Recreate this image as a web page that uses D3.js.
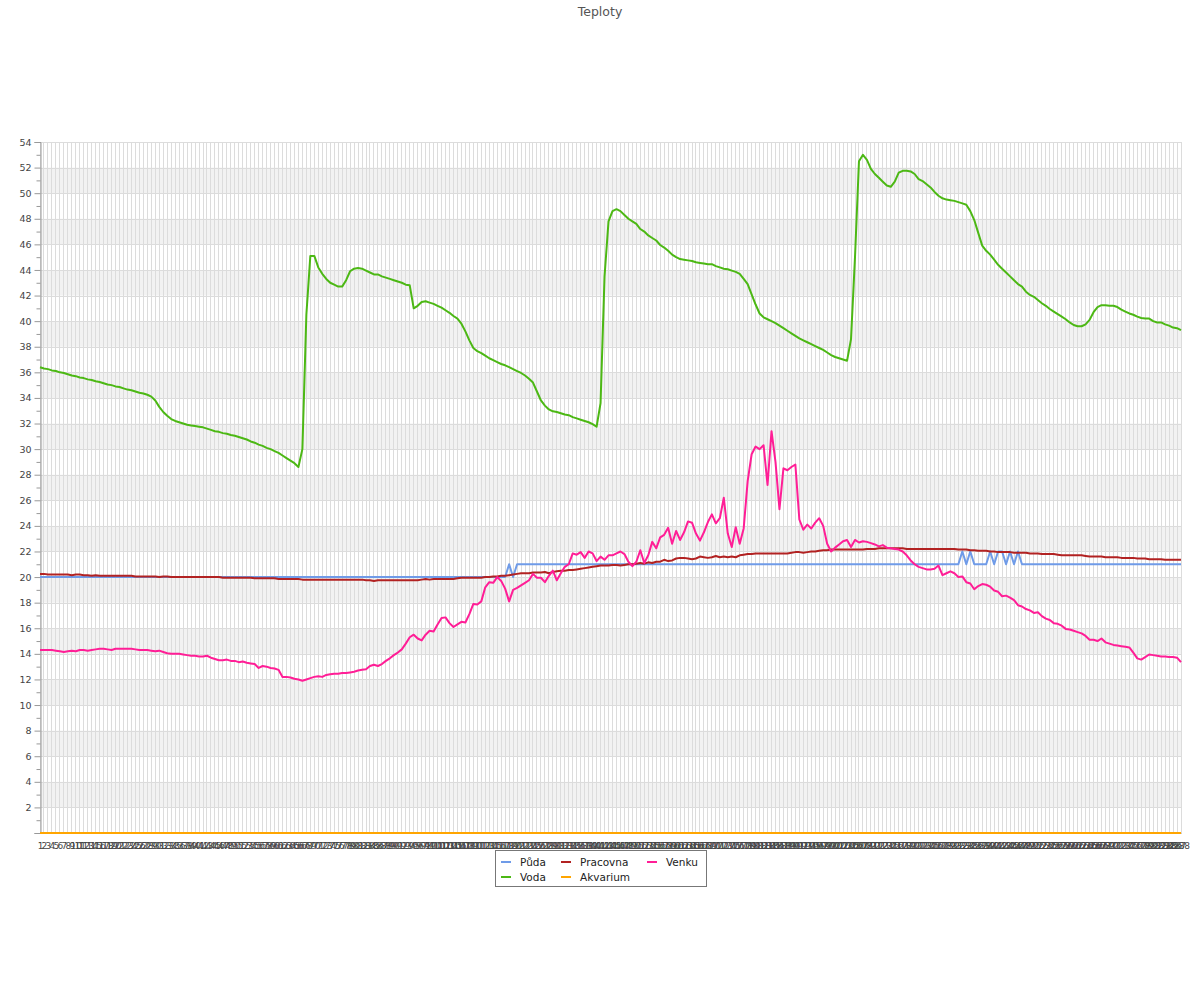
<!DOCTYPE html>
<html><head><meta charset="utf-8">
<script src="https://cdn.jsdelivr.net/npm/d3@7"></script>
<style>body{margin:0;background:#fff;} svg{display:block;font-family:"DejaVu Sans",sans-serif;}</style>
</head><body><svg id="c" width="1200" height="1000"></svg>
<script>
const title = "Teploty";
const categories = d3.range(1, 289).map(String);
const yMajorTicks = d3.range(0, 55, 2);
const yMinorTicks = d3.range(1, 54, 2);
const seriesNames = ["Půda", "Voda", "Pracovna", "Akvarium", "Venku"];
const seriesColors = ["#6f9be8", "#4cb814", "#b22222", "#ffa500", "#ff1e96"];

const puda = [
20,20,20,20,20,20,20,20,20,20,20,20, 20,20,20,20,20,20,20,20,20,20,20,20,
20,20,20,20,20,20,20,20,20,20,20,20, 20,20,20,20,20,20,20,20,20,20,20,20,
20,20,20,20,20,20,20,20,20,20,20,20, 20,20,20,20,20,20,20,20,20,20,20,20,
20,20,20,20,20,20,20,20,20,20,20,20, 20,20,20,20,20,20,20,20,20,20,20,20,
20,20,20,20,20,20,20,20,20,20,20,20, 20,20,20,20,20,20,20,20,20,20,21,20,
21,21,21,21,21,21,21,21,21,21,21,21, 21,21,21,21,21,21,21,21,21,21,21,21,
21,21,21,21,21,21,21,21,21,21,21,21, 21,21,21,21,21,21,21,21,21,21,21,21,
21,21,21,21,21,21,21,21,21,21,21,21, 21,21,21,21,21,21,21,21,21,21,21,21,
21,21,21,21,21,21,21,21,21,21,21,21, 21,21,21,21,21,21,21,21,21,21,21,21,
21,21,21,21,21,21,21,21,21,21,21,21, 21,21,21,21,22,21,22,21,21,21,21,22,
21,22,22,21,22,21,22,21,21,21,21,21, 21,21,21,21,21,21,21,21,21,21,21,21,
21,21,21,21,21,21,21,21,21,21,21,21, 21,21,21,21,21,21,21,21,21,21,21,21
];

const voda = [
36.4,36.3,36.25,36.15,36.1,36.0,35.95,35.85,35.75,35.7,35.6,35.55,
35.45,35.4,35.3,35.25,35.15,35.05,35.0,34.9,34.85,34.75,34.65,34.6,
34.5,34.4,34.35,34.25,34.1,33.8,33.3,32.9,32.6,32.35,32.2,32.1,
32.0,31.9,31.85,31.8,31.75,31.7,31.6,31.5,31.4,31.35,31.25,31.2,
31.1,31.05,30.95,30.85,30.75,30.6,30.5,30.35,30.25,30.1,30.0,29.85,
29.7,29.5,29.3,29.1,28.9,28.6,30.0,40.5,45.1,45.1,44.2,43.7,
43.3,43.0,42.85,42.7,42.7,43.2,43.9,44.1,44.15,44.1,43.95,43.8,
43.65,43.65,43.5,43.4,43.3,43.2,43.1,43.0,42.85,42.8,41.0,41.2,
41.5,41.55,41.45,41.35,41.2,41.05,40.85,40.65,40.4,40.2,39.8,39.2,
38.5,37.9,37.65,37.5,37.3,37.1,36.95,36.8,36.65,36.55,36.4,36.25,
36.1,35.95,35.75,35.5,35.2,34.5,33.8,33.4,33.1,32.95,32.9,32.8,
32.7,32.65,32.5,32.4,32.3,32.2,32.1,31.95,31.75,33.6,43.5,47.8,
48.6,48.75,48.6,48.3,48.0,47.8,47.6,47.2,47.0,46.7,46.5,46.3,
45.95,45.75,45.5,45.2,45.0,44.85,44.8,44.75,44.7,44.6,44.55,44.5,
44.45,44.45,44.3,44.2,44.1,44.05,43.95,43.85,43.7,43.3,42.9,42.1,
41.3,40.6,40.3,40.15,40.0,39.85,39.65,39.45,39.25,39.05,38.85,38.65,
38.5,38.35,38.2,38.05,37.9,37.75,37.55,37.35,37.2,37.1,37.0,36.9,
38.6,45.0,52.5,53.0,52.6,51.9,51.5,51.2,50.9,50.6,50.5,50.9,
51.6,51.75,51.75,51.7,51.5,51.1,50.95,50.7,50.45,50.1,49.8,49.6,
49.5,49.45,49.4,49.3,49.2,49.1,48.6,47.9,46.9,45.9,45.5,45.2,
44.8,44.4,44.1,43.8,43.5,43.2,42.9,42.7,42.3,42.05,41.9,41.65,
41.4,41.2,40.95,40.75,40.55,40.35,40.15,39.9,39.7,39.6,39.6,39.75,
40.1,40.7,41.1,41.25,41.25,41.2,41.2,41.1,40.9,40.75,40.6,40.5,
40.35,40.25,40.2,40.2,40.0,39.9,39.9,39.75,39.65,39.5,39.45,39.3
];

const pracovna = [
20.25,20.25,20.2,20.2,20.2,20.2,20.2,20.2,20.15,20.2,20.2,20.15,
20.15,20.1,20.15,20.1,20.1,20.1,20.1,20.1,20.1,20.1,20.1,20.1,
20.05,20.05,20.05,20.05,20.05,20.05,20.0,20.05,20.05,20.0,20.0,20.0,
20.0,20.0,20.0,20.0,20.0,20.0,20.0,20.0,20.0,20.0,19.95,19.95,
19.95,19.95,19.95,19.95,19.95,19.95,19.9,19.9,19.9,19.9,19.9,19.9,
19.85,19.85,19.85,19.85,19.85,19.85,19.8,19.8,19.8,19.8,19.8,19.8,
19.8,19.8,19.8,19.8,19.8,19.8,19.8,19.8,19.8,19.8,19.75,19.75,
19.7,19.75,19.75,19.75,19.75,19.75,19.75,19.75,19.75,19.75,19.75,19.75,
19.8,19.85,19.8,19.85,19.85,19.85,19.85,19.85,19.85,19.9,19.95,19.95,
19.95,19.95,19.95,19.95,20.0,20.0,20.05,20.05,20.1,20.1,20.15,20.2,
20.25,20.3,20.3,20.3,20.35,20.35,20.35,20.4,20.3,20.4,20.45,20.5,
20.5,20.55,20.55,20.6,20.65,20.7,20.75,20.8,20.85,20.9,20.9,20.9,
20.95,20.95,20.9,20.95,21.0,21.0,21.05,21.1,21.05,21.15,21.1,21.2,
21.2,21.35,21.25,21.3,21.45,21.5,21.5,21.45,21.4,21.45,21.6,21.55,
21.5,21.55,21.65,21.55,21.6,21.55,21.6,21.55,21.7,21.75,21.8,21.8,
21.85,21.85,21.85,21.85,21.85,21.85,21.85,21.85,21.85,21.9,21.95,21.95,
21.9,21.95,22.0,22.0,22.05,22.1,22.1,22.15,22.15,22.15,22.15,22.15,
22.15,22.15,22.15,22.15,22.2,22.2,22.2,22.25,22.25,22.25,22.25,22.25,
22.25,22.25,22.2,22.2,22.2,22.2,22.2,22.2,22.2,22.2,22.2,22.2,
22.2,22.2,22.2,22.15,22.15,22.15,22.1,22.1,22.05,22.05,22.05,22.0,
22.0,21.95,21.95,21.95,21.95,21.9,21.9,21.9,21.9,21.85,21.85,21.85,
21.8,21.8,21.8,21.8,21.75,21.7,21.7,21.7,21.7,21.7,21.7,21.65,
21.6,21.6,21.6,21.6,21.55,21.55,21.55,21.55,21.5,21.5,21.5,21.5,
21.45,21.45,21.45,21.4,21.4,21.4,21.4,21.35,21.35,21.35,21.35,21.35
];

const akvarium = [
0,0,0,0,0,0,0,0,0,0,0,0,0,0,0,0,0,0,0,0,0,0,0,0,
0,0,0,0,0,0,0,0,0,0,0,0,0,0,0,0,0,0,0,0,0,0,0,0,
0,0,0,0,0,0,0,0,0,0,0,0,0,0,0,0,0,0,0,0,0,0,0,0,
0,0,0,0,0,0,0,0,0,0,0,0,0,0,0,0,0,0,0,0,0,0,0,0,
0,0,0,0,0,0,0,0,0,0,0,0,0,0,0,0,0,0,0,0,0,0,0,0,
0,0,0,0,0,0,0,0,0,0,0,0,0,0,0,0,0,0,0,0,0,0,0,0,
0,0,0,0,0,0,0,0,0,0,0,0,0,0,0,0,0,0,0,0,0,0,0,0,
0,0,0,0,0,0,0,0,0,0,0,0,0,0,0,0,0,0,0,0,0,0,0,0,
0,0,0,0,0,0,0,0,0,0,0,0,0,0,0,0,0,0,0,0,0,0,0,0,
0,0,0,0,0,0,0,0,0,0,0,0,0,0,0,0,0,0,0,0,0,0,0,0,
0,0,0,0,0,0,0,0,0,0,0,0,0,0,0,0,0,0,0,0,0,0,0,0,
0,0,0,0,0,0,0,0,0,0,0,0,0,0,0,0,0,0,0,0,0,0,0,0
];

const venku = [
14.3,14.3,14.3,14.3,14.25,14.2,14.15,14.2,14.25,14.2,14.3,14.3,
14.25,14.3,14.35,14.4,14.4,14.35,14.3,14.4,14.4,14.4,14.4,14.4,
14.35,14.3,14.3,14.3,14.25,14.2,14.25,14.15,14.05,14.0,14.0,14.0,
13.95,13.9,13.85,13.85,13.8,13.8,13.85,13.7,13.6,13.5,13.5,13.55,
13.45,13.45,13.35,13.4,13.3,13.25,13.2,12.9,13.05,13.0,12.9,12.85,
12.75,12.2,12.2,12.15,12.05,12.0,11.9,12.0,12.1,12.2,12.25,12.2,
12.35,12.4,12.45,12.45,12.5,12.5,12.55,12.6,12.7,12.75,12.8,13.05,
13.15,13.05,13.2,13.45,13.65,13.9,14.1,14.35,14.8,15.3,15.5,15.2,
15.05,15.5,15.8,15.75,16.3,16.8,16.85,16.4,16.1,16.3,16.5,16.45,
17.1,17.9,17.85,18.1,19.2,19.6,19.55,20.0,19.7,19.1,18.1,19.0,
19.15,19.35,19.55,19.75,20.25,19.95,19.95,19.6,20.1,20.5,19.75,20.3,
20.8,21.0,21.85,21.75,21.95,21.5,22.0,21.85,21.25,21.6,21.35,21.7,
21.7,21.85,22.0,21.8,21.2,20.85,21.2,22.1,21.1,21.7,22.75,22.25,
23.1,23.3,23.85,22.6,23.6,22.9,23.5,24.35,24.25,23.4,22.85,23.5,
24.3,24.9,24.2,24.6,26.2,23.4,22.35,23.9,22.6,23.8,27.5,29.6,
30.2,30.0,30.3,27.2,31.4,29.0,25.3,28.5,28.35,28.6,28.8,24.5,
23.7,24.1,23.8,24.25,24.6,24.0,22.6,22.0,22.3,22.55,22.8,22.9,
22.35,22.9,22.7,22.8,22.75,22.65,22.55,22.4,22.5,22.3,22.25,22.2,
22.15,22.0,21.7,21.3,21.0,20.8,20.7,20.6,20.6,20.65,20.9,20.15,
20.3,20.45,20.3,20.0,20.05,19.6,19.5,19.05,19.3,19.45,19.4,19.25,
18.95,18.85,18.5,18.55,18.4,18.2,17.8,17.7,17.5,17.4,17.2,17.25,
16.95,16.75,16.65,16.4,16.35,16.2,15.95,15.9,15.8,15.7,15.6,15.4,
15.1,15.1,15.0,15.2,14.9,14.8,14.7,14.65,14.6,14.55,14.5,14.1,
13.65,13.55,13.75,13.95,13.9,13.85,13.8,13.8,13.75,13.75,13.7,13.35
];

const seriesValues = [puda, voda, pracovna, akvarium, venku];

const svg = d3.select("#c");
const L = 40, R = 1181, T = 142, B = 833;
const x = d3.scalePoint().domain(categories).range([L, R]);
const y = d3.scaleLinear().domain([0, 54]).range([B, T]);

// title
svg.append("text").attr("x", 600).attr("y", 16).attr("text-anchor", "middle")
  .attr("font-size", "12.5px").attr("fill", "#555").text(title);

const grid = svg.append("g");
// alternating bands
const bandStarts = yMajorTicks.filter(v => v < 54 && (v / 2) % 2 === 1);
grid.selectAll("rect.band").data(bandStarts).join("rect")
  .attr("x", L).attr("width", R - L)
  .attr("y", d => y(d + 2)).attr("height", d => y(d) - y(d + 2))
  .attr("fill", "#f2f2f2");
// vertical grid lines
grid.selectAll("line.v").data(categories).join("line")
  .attr("x1", d => Math.floor(x(d)) + 0.5).attr("x2", d => Math.floor(x(d)) + 0.5)
  .attr("y1", T).attr("y2", B).attr("stroke", "#dcdcdc").attr("stroke-width", 1);
// horizontal grid lines
grid.selectAll("line.h").data(yMajorTicks.filter(v => v > 0)).join("line")
  .attr("x1", L).attr("x2", R)
  .attr("y1", d => Math.round(y(d)) + 0.5).attr("y2", d => Math.round(y(d)) + 0.5)
  .attr("stroke", "#dcdcdc").attr("stroke-width", 1);

// y axis major
const yAxis = svg.append("g").attr("transform", `translate(${L + 0.5},0)`)
  .call(d3.axisLeft(y).tickValues(yMajorTicks).tickSize(6).tickPadding(3)
    .tickFormat(d => d === 0 ? "" : d));
yAxis.select(".domain").attr("stroke", "#999");
yAxis.selectAll(".tick line").attr("stroke", "#999");
yAxis.selectAll(".tick text").attr("font-size", "9.5px").attr("fill", "#444")
  .attr("font-family", "DejaVu Sans");
// y axis minor
const yMinor = svg.append("g").attr("transform", `translate(${L + 0.5},0)`)
  .call(d3.axisLeft(y).tickValues(yMinorTicks).tickSize(4).tickFormat(""));
yMinor.select(".domain").remove();
yMinor.selectAll(".tick line").attr("stroke", "#999");

// x axis labels
const xAxis = svg.append("g").attr("transform", `translate(0,${B})`)
  .call(d3.axisBottom(x).tickSize(0).tickPadding(10));
xAxis.select(".domain").attr("stroke", "#999");
xAxis.selectAll(".tick text").attr("font-size", "9px").attr("fill", "#444")
  .attr("font-family", "DejaVu Sans");

// lines
const line = d3.line().x((d, i) => x(categories[i])).y(d => y(d));
svg.append("g").selectAll("path").data(seriesValues).join("path")
  .attr("d", d => line(d)).attr("fill", "none")
  .attr("stroke", (d, i) => seriesColors[i]).attr("stroke-width", 2)
  .attr("stroke-linejoin", "round");

// legend
const lg = svg.append("g");
lg.append("rect").attr("x", 495.5).attr("y", 850.5).attr("width", 211).attr("height", 36)
  .attr("fill", "#fff").attr("stroke", "#777");
const colX = [501, 561, 647];
const rowY = [862, 877];
seriesNames.forEach((name, i) => {
  const c = Math.floor(i / 2), r = i % 2;
  lg.append("line").attr("x1", colX[c]).attr("x2", colX[c] + 10)
    .attr("y1", rowY[r]).attr("y2", rowY[r]).attr("stroke", seriesColors[i]).attr("stroke-width", 2);
  lg.append("text").attr("x", colX[c] + 19).attr("y", rowY[r] + 3.5)
    .attr("font-size", "10.5px").attr("fill", "#222").text(name);
});
</script></body></html>
